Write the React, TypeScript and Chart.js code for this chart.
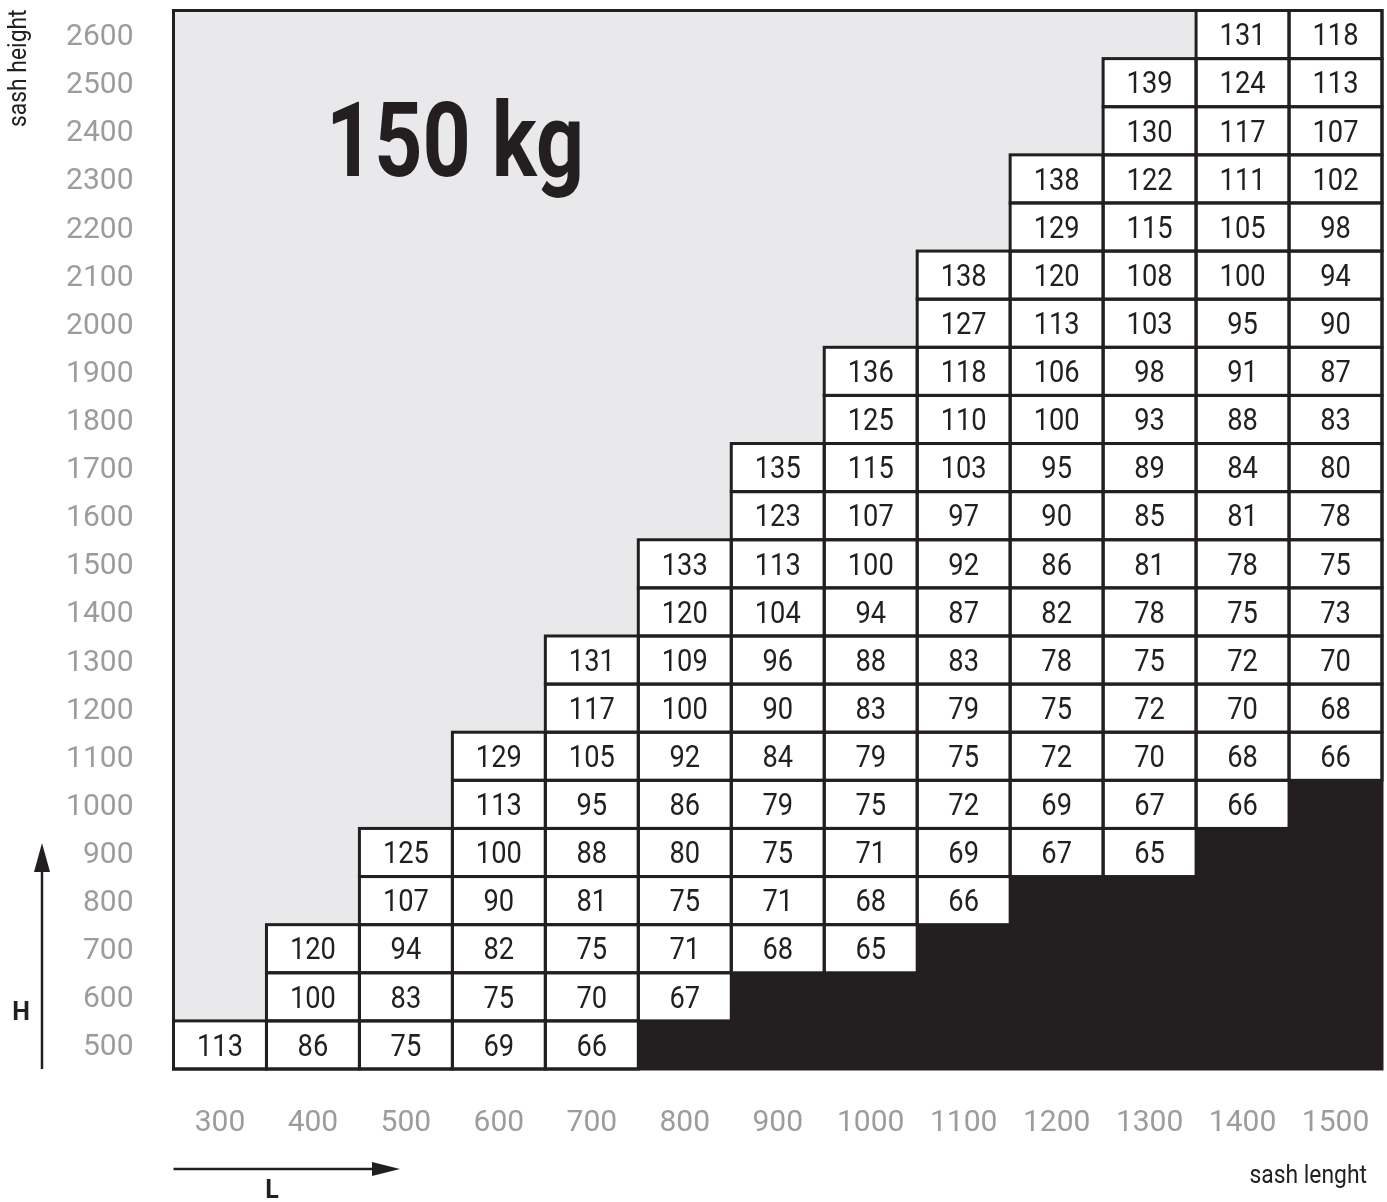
import React, { useEffect, useRef } from 'react';
import { Chart, registerables } from 'chart.js';

Chart.register(...registerables);

// sash length categories (x axis)
const lengthLabels = ['300', '400', '500', '600', '700', '800', '900', '1000', '1100', '1200', '1300', '1400', '1500'];
// sash height rows (y axis ticks)
const heightTicks = [500, 600, 700, 800, 900, 1000, 1100, 1200, 1300, 1400, 1500, 1600, 1700, 1800, 1900, 2000, 2100, 2200, 2300, 2400, 2500, 2600];
// lowest sash height that has a value in each length column
const firstHeights = [500, 500, 500, 500, 500, 600, 700, 700, 800, 900, 900, 1000, 1100];

// values per length column, from the first height upwards
const col300 = [113];
const col400 = [86, 100, 120];
const col500 = [75, 83, 94, 107, 125];
const col600 = [69, 75, 82, 90, 100, 113, 129];
const col700 = [66, 70, 75, 81, 88, 95, 105, 117, 131];
const col800 = [67, 71, 75, 80, 86, 92, 100, 109, 120, 133];
const col900 = [68, 71, 75, 79, 84, 90, 96, 104, 113, 123, 135];
const col1000 = [65, 68, 71, 75, 79, 83, 88, 94, 100, 107, 115, 125, 136];
const col1100 = [66, 69, 72, 75, 79, 83, 87, 92, 97, 103, 110, 118, 127, 138];
const col1200 = [67, 69, 72, 75, 78, 82, 86, 90, 95, 100, 106, 113, 120, 129, 138];
const col1300 = [65, 67, 70, 72, 75, 78, 81, 85, 89, 93, 98, 103, 108, 115, 122, 130, 139];
const col1400 = [66, 68, 70, 72, 75, 78, 81, 84, 88, 91, 95, 100, 105, 111, 117, 124, 131];
const col1500 = [66, 68, 70, 73, 75, 78, 80, 83, 87, 90, 94, 98, 102, 107, 113, 118];

const columns = [col300, col400, col500, col600, col700, col800, col900, col1000, col1100, col1200, col1300, col1400, col1500];

const titleText = '150 kg';
const yAxisTitle = 'sash height';
const xAxisTitle = 'sash lenght';

const DARK = '#231f20';
const GREY_BG = '#e9e9ec';
const TICK_GREY = '#9c9c9f';
const FONT = 'Roboto, "DejaVu Sans", sans-serif';

const STEP = 100;
const Y_MIN = heightTicks[0] - STEP / 2;
const Y_MAX = heightTicks[heightTicks.length - 1] + STEP / 2;

function buildDatasets() {
  const blocked = {
    label: 'not allowed',
    data: firstHeights.map((h) => (h > heightTicks[0] ? [Y_MIN, h - STEP / 2] : null)),
    backgroundColor: DARK,
    borderWidth: 0,
    isCell: false,
  } as any;
  const rows = heightTicks.map((h) => {
    const values = columns.map((col, c) => {
      const idx = (h - firstHeights[c]) / STEP;
      return idx >= 0 && idx < col.length ? col[idx] : null;
    });
    return {
      label: String(h),
      data: values.map((v) => (v === null ? null : [h - STEP / 2, h + STEP / 2])),
      cellValues: values,
      backgroundColor: '#ffffff',
      borderWidth: 0,
      isCell: true,
    } as any;
  });
  return [blocked, ...rows];
}

function drawCondensed(ctx: any, text: string, x: number, y: number, scaleX: number, align: string) {
  ctx.save();
  const w = ctx.measureText(text).width * scaleX;
  let left = x;
  if (align === 'center') left = x - w / 2;
  else if (align === 'right') left = x - w;
  ctx.translate(left, y);
  ctx.scale(scaleX, 1);
  ctx.textAlign = 'left';
  ctx.fillText(text, 0, 0);
  ctx.restore();
}

const decorPlugin = {
  id: 'decor',
  beforeDatasetsDraw(chart: any) {
    const { ctx, chartArea: a } = chart;
    ctx.save();
    ctx.fillStyle = GREY_BG;
    ctx.fillRect(a.left, a.top, a.right - a.left, a.bottom - a.top);
    ctx.restore();
  },
  afterDatasetsDraw(chart: any) {
    const { ctx, chartArea: a } = chart;
    ctx.save();
    // cell borders and numbers
    ctx.strokeStyle = DARK;
    ctx.lineWidth = 3;
    ctx.fillStyle = DARK;
    ctx.font = `400 31px ${FONT}`;
    ctx.textBaseline = 'middle';
    chart.data.datasets.forEach((ds: any, di: number) => {
      if (!ds.isCell) return;
      const meta = chart.getDatasetMeta(di);
      meta.data.forEach((el: any, i: number) => {
        const v = ds.cellValues[i];
        if (v === null || v === undefined) return;
        const p = el.getProps(['x', 'y', 'base', 'width'], true);
        const top = Math.min(p.y, p.base);
        const bot = Math.max(p.y, p.base);
        ctx.strokeRect(p.x - p.width / 2, top, p.width, bot - top);
      });
    });
    chart.data.datasets.forEach((ds: any, di: number) => {
      if (!ds.isCell) return;
      const meta = chart.getDatasetMeta(di);
      meta.data.forEach((el: any, i: number) => {
        const v = ds.cellValues[i];
        if (v === null || v === undefined) return;
        const p = el.getProps(['x', 'y', 'base'], true);
        drawCondensed(ctx, String(v), p.x, (p.y + p.base) / 2 + 3, 0.88, 'center');
      });
    });
    // plot frame
    ctx.strokeRect(a.left, a.top, a.right - a.left, a.bottom - a.top);
    // big title
    ctx.font = `700 103px ${FONT}`;
    ctx.textAlign = 'left';
    ctx.textBaseline = 'alphabetic';
    const w = ctx.measureText(titleText).width;
    const targetW = 258;
    ctx.translate(326, 176);
    ctx.scale(targetW / w, 1);
    ctx.fillText(titleText, 0, 0);
    ctx.restore();
  },
  afterDraw(chart: any) {
    const { ctx, chartArea: a } = chart;
    ctx.save();
    ctx.strokeStyle = DARK;
    ctx.fillStyle = DARK;
    ctx.lineWidth = 2.5;
    // vertical H arrow
    ctx.beginPath();
    ctx.moveTo(42, a.bottom);
    ctx.lineTo(42, 866);
    ctx.stroke();
    ctx.beginPath();
    ctx.moveTo(42, 843);
    ctx.lineTo(34, 872);
    ctx.lineTo(50, 872);
    ctx.closePath();
    ctx.fill();
    // horizontal L arrow
    ctx.beginPath();
    ctx.moveTo(a.left, 1169);
    ctx.lineTo(376, 1169);
    ctx.stroke();
    ctx.beginPath();
    ctx.moveTo(400, 1169);
    ctx.lineTo(372, 1162);
    ctx.lineTo(372, 1176);
    ctx.closePath();
    ctx.fill();
    // H and L
    ctx.font = `700 25px ${FONT}`;
    ctx.textAlign = 'center';
    ctx.textBaseline = 'alphabetic';
    ctx.fillText('H', 21, 1020);
    ctx.fillText('L', 272, 1198);
    // axis titles
    ctx.font = `400 26px ${FONT}`;
    drawCondensed(ctx, xAxisTitle, 1367, 1183, 0.88, 'right');
    ctx.translate(26, 127);
    ctx.rotate(-Math.PI / 2);
    drawCondensed(ctx, yAxisTitle, 0, 0, 0.88, 'left');
    ctx.restore();
  },
};

export default function App() {
  const ref = useRef<HTMLCanvasElement | null>(null);
  useEffect(() => {
    if (!ref.current) return;
    const chart = new Chart(ref.current, {
      type: 'bar',
      data: { labels: lengthLabels, datasets: buildDatasets() },
      options: {
        animation: false,
        responsive: false,
        devicePixelRatio: 1,
        layout: { padding: { top: 10.5, right: 5, bottom: 0, left: 0 } },
        plugins: { legend: { display: false }, tooltip: { enabled: false } },
        datasets: { bar: { grouped: false, categoryPercentage: 1, barPercentage: 1 } as any },
        scales: {
          x: {
            type: 'category',
            offset: true,
            grid: { display: false, drawTicks: false },
            border: { display: false },
            ticks: { color: TICK_GREY, font: { family: FONT, size: 30 }, padding: 36, maxRotation: 0, autoSkip: false },
            afterFit: (s: any) => {
              s.height = 133;
              s.paddingLeft = 0;
              s.paddingRight = 0;
              s.paddingTop = 0;
              s.paddingBottom = 0;
            },
          },
          y: {
            type: 'linear',
            min: Y_MIN,
            max: Y_MAX,
            grid: { display: false, drawTicks: false },
            border: { display: false },
            ticks: {
              color: TICK_GREY,
              font: { family: FONT, size: 30 },
              padding: 40,
              labelOffset: 3,
              callback: (v: any) => String(v),
            },
            afterBuildTicks: (s: any) => {
              s.ticks = heightTicks.map((v) => ({ value: v }));
            },
            afterFit: (s: any) => {
              s.width = 173.5;
              s.paddingLeft = 0;
              s.paddingRight = 0;
              s.paddingTop = 0;
              s.paddingBottom = 0;
            },
          },
        },
      } as any,
      plugins: [decorPlugin],
    });
    return () => chart.destroy();
  }, []);
  return (
    <div style={{ position: 'absolute', left: 0, top: 0, width: 1387, height: 1202, background: '#fff' }}>
      <canvas ref={ref} width={1387} height={1202} style={{ display: 'block' }} />
    </div>
  );
}
